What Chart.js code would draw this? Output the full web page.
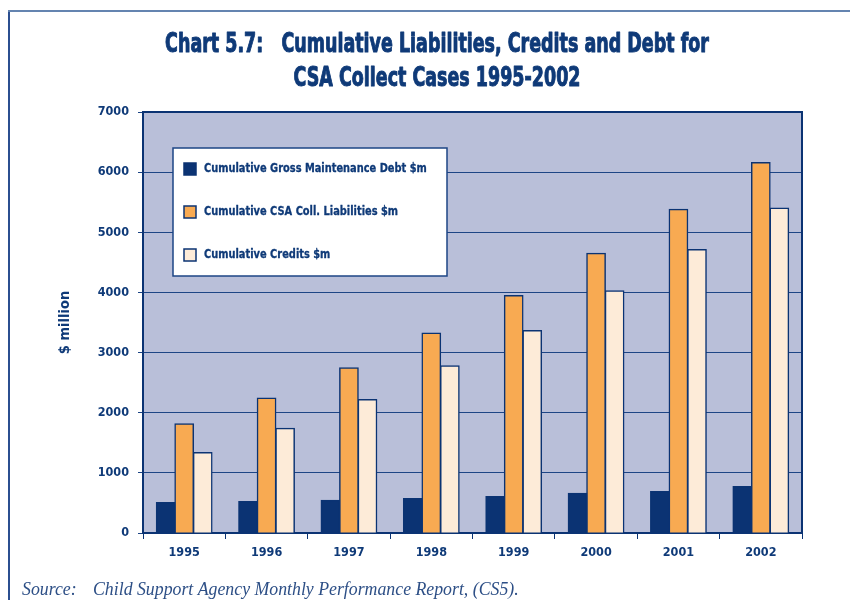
<!DOCTYPE html>
<html>
<head>
<meta charset="utf-8">
<script src="https://cdn.jsdelivr.net/npm/chart.js@4.4.1/dist/chart.umd.min.js"></script>
<style>
  body { margin: 0; background: #fff; }
  canvas { display: block; }
</style>
</head>
<body>
<canvas id="grafico" width="850" height="600"></canvas>
<script>
// anos e series (em $ milhoes)
const anos = ['1995', '1996', '1997', '1998', '1999', '2000', '2001', '2002']
const dividaBruta = [505, 521, 544, 571, 604, 660, 687, 770]
const passivosCSA = [1815, 2245, 2745, 3325, 3948, 4648, 5380, 6160]
const creditos = [1335, 1742, 2218, 2780, 3366, 4027, 4714, 5402]
const ticksY = [0, 1000, 2000, 3000, 4000, 5000, 6000, 7000]

const titulo = ['Chart 5.7:   Cumulative Liabilities, Credits and Debt for', 'CSA Collect Cases 1995-2002']
const fonte = ['Source:', 'Child Support Agency Monthly Performance Report, (CS5).']

const azul = '#0b3373'
const azulTexto = '#0f3a78'
const linha = '#1d4585'
const condensada = "'DejaVu Sans Condensed', 'DejaVu Sans', sans-serif"

// texto comprimido na horizontal (fonte condensada), com contorno opcional pra engrossar
function textoEstreito(ctx, txt, x, y, escala, align, grosso) {
  ctx.save()
  ctx.translate(x, y)
  ctx.scale(escala, 1)
  ctx.textAlign = align
  ctx.fillText(txt, 0, 0)
  if (grosso) {
    ctx.strokeStyle = ctx.fillStyle
    ctx.lineWidth = grosso
    ctx.lineJoin = 'round'
    ctx.strokeText(txt, 0, 0)
  }
  ctx.restore()
}

const enfeites = {
  id: 'enfeites',
  beforeDraw(chart) {
    const { ctx, chartArea: a } = chart
    ctx.save()
    ctx.fillStyle = '#fff'
    ctx.fillRect(0, 0, chart.width, chart.height)
    // moldura externa
    ctx.strokeStyle = '#6484b0'
    ctx.lineWidth = 2
    ctx.beginPath()
    ctx.moveTo(9, 600)
    ctx.lineTo(9, 11)
    ctx.lineTo(850, 11)
    ctx.stroke()
    ctx.strokeStyle = '#2b4f90'
    ctx.beginPath()
    ctx.moveTo(9, 12)
    ctx.lineTo(9, 600)
    ctx.stroke()
    // fundo da area do grafico
    ctx.fillStyle = '#b9bfd9'
    ctx.fillRect(a.left, a.top, a.right - a.left, a.bottom - a.top)
    ctx.restore()
  },
  afterDatasetsDraw(chart) {
    const { ctx, chartArea: a } = chart
    ctx.save()
    ctx.strokeStyle = azul
    ctx.lineWidth = 2
    ctx.beginPath()
    ctx.moveTo(a.left, a.top)
    ctx.lineTo(a.right, a.top)
    ctx.lineTo(a.right, a.bottom)
    ctx.stroke()
    ctx.restore()
  },
  afterDraw(chart) {
    const { ctx, chartArea: a } = chart
    ctx.save()
    // titulo
    ctx.fillStyle = azulTexto
    ctx.font = 'bold 27px ' + condensada
    ctx.textBaseline = 'alphabetic'
    textoEstreito(ctx, titulo[0], 437, 52, 0.72, 'center', 1)
    textoEstreito(ctx, titulo[1], 437, 86, 0.72, 'center', 1)

    // legenda dentro do grafico
    const lx = a.left + 30, ly = a.top + 36
    ctx.fillStyle = '#fff'
    ctx.fillRect(lx, ly, 274, 128)
    ctx.strokeStyle = linha
    ctx.lineWidth = 1.5
    ctx.strokeRect(lx, ly, 274, 128)
    ctx.font = 'bold 12.5px ' + condensada
    ctx.textBaseline = 'middle'
    chart.data.datasets.forEach((ds, i) => {
      const cy = ly + 21 + i * 43
      ctx.fillStyle = ds.backgroundColor
      ctx.fillRect(lx + 11, cy - 6, 12, 12)
      ctx.strokeStyle = azul
      ctx.lineWidth = 1.5
      ctx.strokeRect(lx + 11, cy - 6, 12, 12)
      ctx.fillStyle = azulTexto
      textoEstreito(ctx, ds.label, lx + 31, cy, 0.875, 'left', 0.3)
    })

    // fonte dos dados
    ctx.fillStyle = '#2d4f86'
    ctx.font = 'italic 17.8px "Liberation Serif", serif'
    ctx.textBaseline = 'alphabetic'
    ctx.textAlign = 'left'
    ctx.fillText(fonte[0], 22, 595)
    ctx.fillText(fonte[1], 93, 595)
    ctx.restore()
  }
}

const g = document.getElementById('grafico')

new Chart(g, {
  type: 'bar',
  data: {
    labels: anos,
    datasets: [
      { label: 'Cumulative Gross Maintenance Debt $m', data: dividaBruta, backgroundColor: azul },
      { label: 'Cumulative CSA Coll. Liabilities $m', data: passivosCSA, backgroundColor: '#f8aa52' },
      { label: 'Cumulative Credits $m', data: creditos, backgroundColor: '#fdebd8' }
    ]
  },
  options: {
    responsive: false,
    animation: false,
    layout: { padding: { left: 40, right: 48, top: 112, bottom: 37 } },
    datasets: {
      bar: {
        borderColor: azul,
        borderWidth: 1.5,
        categoryPercentage: 0.675,
        barPercentage: 1,
        inflateAmount: 0.6
      }
    },
    plugins: {
      legend: { display: false },
      title: { display: false },
      tooltip: { enabled: false }
    },
    scales: {
      x: {
        afterFit: (s) => { s.height = 30 },
        grid: { drawOnChartArea: false, color: azul, tickLength: 6, offset: true },
        border: { color: azul, width: 2 },
        ticks: { color: azulTexto, padding: 6, font: { family: condensada, weight: 'bold', size: 12.5 } }
      },
      y: {
        min: 0,
        max: 7000,
        afterFit: (s) => { s.width = 103 },
        afterBuildTicks: (s) => { s.ticks = ticksY.map(v => ({ value: v })) },
        grid: { color: linha, lineWidth: 1, tickLength: 5 },
        border: { color: azul, width: 2 },
        ticks: {
          color: azulTexto,
          padding: 9,
          font: { family: condensada, weight: 'bold', size: 12.5 },
          callback: (v) => String(v)
        },
        title: {
          display: true,
          text: '$ million',
          color: azulTexto,
          padding: { top: 17, bottom: 0 },
          font: { family: condensada, weight: 'bold', size: 14.5 }
        }
      }
    }
  },
  plugins: [enfeites]
})
</script>
</body>
</html>
